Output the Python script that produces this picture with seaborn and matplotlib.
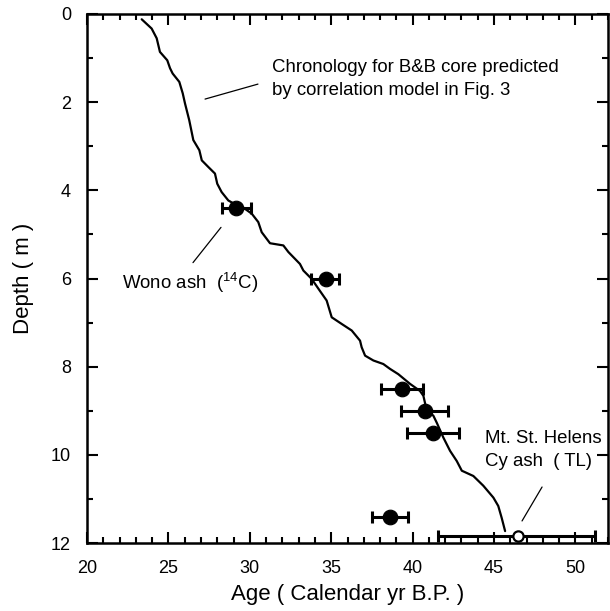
import numpy as np
import pandas as pd
import seaborn as sns
import matplotlib.pyplot as plt
from matplotlib.ticker import MultipleLocator

# predicted chronology (age in ka, depth in m)
line_age = [23.36, 23.97, 24.28, 24.48, 24.93, 25.10, 25.26, 25.67, 25.88, 26.02,
            26.28, 26.53, 26.90, 27.05, 27.45, 27.86, 28.00, 28.27, 28.68, 29.20,
            29.40, 30.12, 30.52, 30.73, 31.24, 32.06, 32.37, 33.08, 33.29, 33.80,
            34.21, 34.72, 35.03, 35.64, 36.26, 36.77, 36.87, 37.08, 37.59, 38.20,
            38.61, 39.12, 39.84, 40.45, 40.66, 40.87, 41.27, 41.48, 41.89, 42.30,
            42.71, 43.02, 43.73, 44.34, 44.96, 45.26, 45.47, 45.68]
line_depth = [0.12, 0.33, 0.55, 0.86, 1.05, 1.23, 1.35, 1.54, 1.80, 2.03,
              2.41, 2.86, 3.09, 3.32, 3.47, 3.62, 3.85, 4.04, 4.23, 4.34,
              4.34, 4.53, 4.72, 4.95, 5.20, 5.25, 5.40, 5.67, 5.82, 6.01,
              6.23, 6.50, 6.88, 7.03, 7.18, 7.41, 7.56, 7.75, 7.86, 7.94,
              8.05, 8.17, 8.39, 8.55, 8.66, 9.00, 9.11, 9.27, 9.61, 9.91,
              10.14, 10.36, 10.48, 10.70, 10.97, 11.16, 11.43, 11.73]

# dated horizons (filled circles) with age ranges
pt_age = [29.15, 34.65, 39.35, 40.76, 41.25, 38.6]
pt_depth = [4.4, 6.0, 8.5, 9.0, 9.5, 11.4]
pt_lo = [28.3, 33.75, 38.05, 39.3, 39.65, 37.5]
pt_hi = [30.05, 35.5, 40.65, 42.2, 42.85, 39.7]

# Mt. St. Helens Cy ash (TL), open circle
tl_age = [46.45]
tl_depth = [11.85]
tl_lo = [41.55]
tl_hi = [51.2]

sns.set_style('ticks')
plt.rcParams['font.family'] = ['Liberation Sans', 'DejaVu Sans']
plt.rcParams['mathtext.fontset'] = 'custom'
plt.rcParams['mathtext.rm'] = 'Liberation Sans'
for k in ['text.color', 'axes.labelcolor', 'xtick.color', 'ytick.color', 'axes.edgecolor']:
    plt.rcParams[k] = 'black'

fig = plt.figure(figsize=(6.1, 6.11), dpi=100)
ax = fig.add_axes([87/610, 1-543/611, (608-87)/610, (543-14)/611])

df = pd.DataFrame({'age': line_age, 'depth': line_depth})
sns.lineplot(data=df, x='age', y='depth', sort=False, estimator=None,
             color='black', linewidth=1.6, ax=ax)

pts = pd.DataFrame({'age': pt_age, 'depth': pt_depth})
xerr = [np.array(pt_age) - np.array(pt_lo), np.array(pt_hi) - np.array(pt_age)]
ax.errorbar(pt_age, pt_depth, xerr=xerr, fmt='none', ecolor='black',
            elinewidth=2.2, capsize=4.5, capthick=2.2, zorder=3)
sns.scatterplot(data=pts, x='age', y='depth', color='black', s=110,
                edgecolor='black', zorder=4, ax=ax)

txerr = [np.array(tl_age) - np.array(tl_lo), np.array(tl_hi) - np.array(tl_age)]
ax.errorbar(tl_age, tl_depth, xerr=txerr, fmt='none', ecolor='black',
            elinewidth=2.2, capsize=4.5, capthick=2.2, zorder=3)
ax.scatter(tl_age, tl_depth, s=55, facecolor='white', edgecolor='black',
           linewidth=1.6, zorder=5)

# annotations
ax.plot([27.25, 30.5], [1.93, 1.59], color='black', lw=0.9)
ax.text(31.36, 1.47, 'Chronology for B&B core predicted\nby correlation model in Fig. 3',
        fontsize=13.4, va='center', ha='left', linespacing=1.45)
ax.plot([28.23, 26.51], [4.84, 5.64], color='black', lw=0.9)
ax.text(22.15, 6.11, 'Wono ash  ($\\mathregular{^{14}}$C)', fontsize=13.4,
        va='center', ha='left')
ax.plot([47.95, 46.72], [10.73, 11.5], color='black', lw=0.9)
ax.text(44.45, 9.9, 'Mt. St. Helens\nCy ash  ( TL)', fontsize=13.4,
        va='center', ha='left', linespacing=1.45)

ax.set_xlim(20, 52)
ax.set_ylim(12, 0)
ax.xaxis.set_major_locator(MultipleLocator(5))
ax.xaxis.set_minor_locator(MultipleLocator(1))
ax.yaxis.set_major_locator(MultipleLocator(2))
ax.yaxis.set_minor_locator(MultipleLocator(1))
ax.tick_params(which='both', direction='in', top=True, right=True,
               width=1.5, labelsize=13)
ax.tick_params(axis='x', pad=12.5)
ax.tick_params(axis='y', pad=11.5)
ax.tick_params(which='major', length=8)
ax.tick_params(which='minor', length=4)
for s in ax.spines.values():
    s.set_linewidth(1.8)

ax.set_xlabel('Age ( Calendar yr B.P. )', fontsize=16, labelpad=5)
ax.set_ylabel('Depth ( m )', fontsize=16, labelpad=12)

fig.savefig('out.png', dpi=100)
